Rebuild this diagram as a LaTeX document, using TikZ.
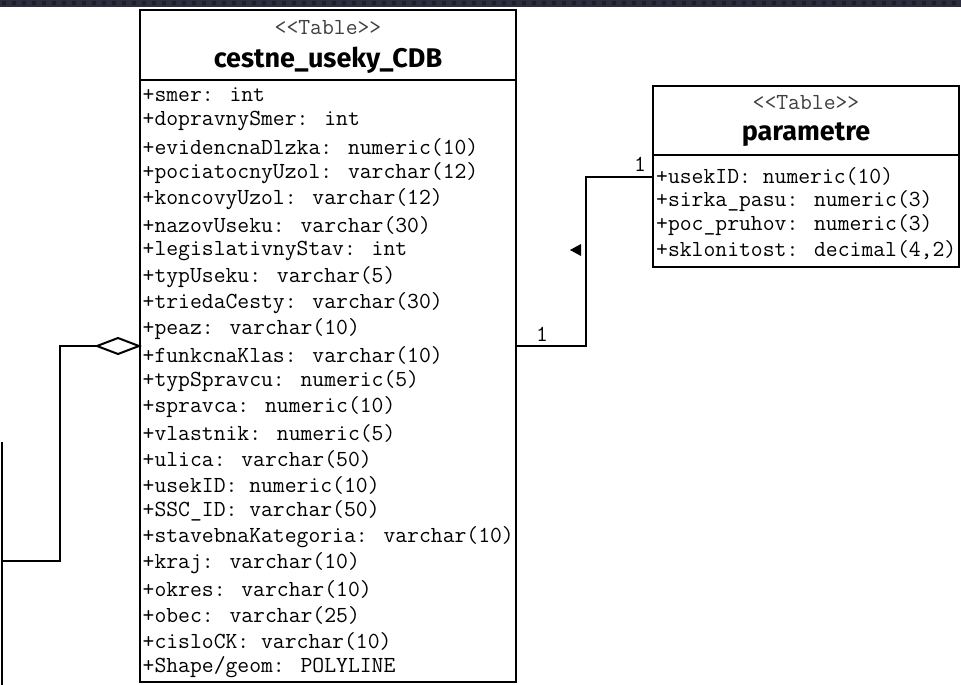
\documentclass[tikz,border=0pt]{standalone}
\usepackage{fontspec}
\newfontfamily\titlefont{Fira Sans}
\usetikzlibrary{calc}
\definecolor{barcol}{RGB}{44,46,62}
\definecolor{bardark}{RGB}{28,30,42}
\begin{document}
\begin{tikzpicture}[x=1pt,y=-1pt,line join=miter]
\tikzset{
  tbl/.style={draw=black, line width=2pt, fill=white, inner sep=0pt},
  sep/.style={line width=2pt},
  rowtxt/.style={anchor=west, inner sep=0pt, font=\fontsize{23}{23}\selectfont\ttfamily},
  stereo/.style={inner sep=0pt, text=black!75, font=\fontsize{23}{23}\selectfont\ttfamily},
  ttl/.style={inner sep=0pt, font=\fontsize{27}{28}\selectfont\titlefont\bfseries},
  conn/.style={line width=2pt},
  mult/.style={inner sep=0pt, font=\fontsize{23}{23}\selectfont\ttfamily},
}
\useasboundingbox (0,0) rectangle (961,685);
% top strip
\fill[barcol] (0,0) rectangle (961,7);
\foreach \k in {0,10,...,960} { \fill[bardark] (\k+2,1.5) rectangle (\k+6,5.5); }

% main table
\node[tbl, minimum width=376pt, minimum height=672pt] (main) at (328,346) {};
\draw[sep] ($(main.north west)+(0,71)$) -- ($(main.north east)+(0,71)$);
\node[stereo] (mst) at (328,28) {<<Table>>};
\node[ttl] (mtl) at (328,60) {cestne\_useky\_CDB};
\foreach \t [count=\i] in {
  {+smer: int},
  {+dopravnySmer: int},
  {+evidencnaDlzka: numeric(10)},
  {+pociatocnyUzol: varchar(12)},
  {+koncovyUzol: varchar(12)},
  {+nazovUseku: varchar(30)},
  {+legislativnyStav: int},
  {+typUseku: varchar(5)},
  {+triedaCesty: varchar(30)},
  {+peaz: varchar(10)},
  {+funkcnaKlas: varchar(10)},
  {+typSpravcu: numeric(5)},
  {+spravca: numeric(10)},
  {+vlastnik: numeric(5)},
  {+ulica: varchar(50)},
  {+usekID: numeric(10)},
  {+SSC\_ID: varchar(50)},
  {+stavebnaKategoria: varchar(10)},
  {+kraj: varchar(10)},
  {+okres: varchar(10)},
  {+obec: varchar(25)},
  {+cisloCK: varchar(10)},
  {+Shape/geom: POLYLINE}}
{ \node[rowtxt] (m\i) at (142.5,{95+26*(\i-1)}) {\t}; }

% parametre table
\node[tbl, minimum width=306pt, minimum height=181pt] (param) at (806,176.5) {};
\draw[sep] ($(param.north west)+(0,70)$) -- ($(param.north east)+(0,70)$);
\node[stereo] (pst) at (806,103) {<<Table>>};
\node[ttl] (ptl) at (806,135) {parametre};
\foreach \t [count=\i] in {
  {+usekID: numeric(10)},
  {+sirka\_pasu: numeric(3)},
  {+poc\_pruhov: numeric(3)},
  {+sklonitost: decimal(4,2)}}
{ \node[rowtxt] (p\i) at (656,{176.5+24.5*(\i-1)}) {\t}; }

% association main -> parametre
\coordinate (bendx) at (586,0);
\draw[conn] (main.east) -- (main.east -| bendx) -- (bendx |- p1.west) -- (param.west |- p1.west);
\node[mult] (mm1) at (542,334) {1};
\node[mult] (pm1) at (640,164) {1};
\fill (570,250) -- (581,244) -- (581,256) -- cycle;

% aggregation on the left
\coordinate (dtip) at (main.west);
\coordinate (dleft) at ($(main.west)+(-42,0)$);
\draw[conn, fill=white] (dtip) -- ++(-21,-8) -- (dleft) -- ++(21,8) -- cycle;
\coordinate (abend) at (60,561);
\coordinate (aend) at (2,561);
\draw[conn] (dleft) -- (dleft -| abend) -- (abend) -- (aend);
\coordinate (ltop) at (2,442);
\coordinate (lbot) at (2,686);
\draw[conn] (ltop) -- (lbot);
\end{tikzpicture}
\end{document}
